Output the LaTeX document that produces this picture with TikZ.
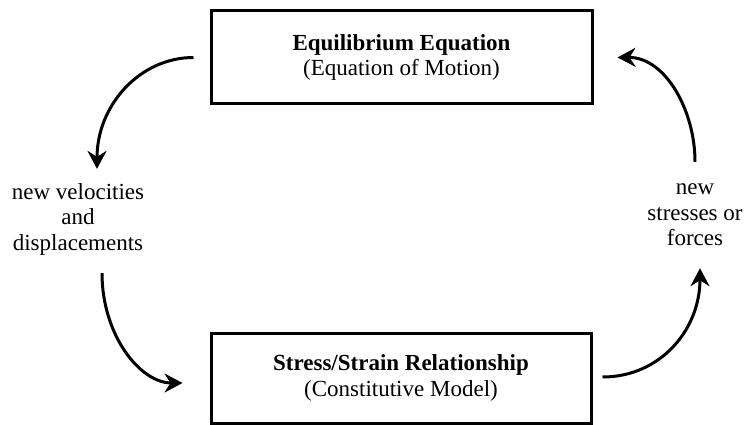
\documentclass[tikz,border=0pt]{standalone}
\usepackage{fontspec}
\setmainfont{Liberation Serif}
\usetikzlibrary{arrows.meta,calc}
\begin{document}
\begin{tikzpicture}[x=1pt,y=-1pt,
  box/.style={draw, line width=3pt, align=center, font=\fontsize{23}{25.5}\selectfont, inner sep=0pt},
  lbl/.style={align=center, font=\fontsize{23}{25.5}\selectfont, inner sep=0pt},
  arr/.style={line width=3pt, -{Stealth[length=18pt,width=19pt,inset=6pt]}}]
\useasboundingbox (0,0) rectangle (747,425);
\node[box, minimum width=381pt, minimum height=93pt] (top) at (401.5,57.5) {\textbf{Equilibrium Equation}\\(Equation of Motion)};
\node[box, minimum width=380pt, minimum height=90pt] (bot) at (401,378) {\textbf{Stress/Strain Relationship}\\(Constitutive Model)};
\node[lbl] (left) at (78,219) {new velocities\\and\\displacements};
\node[lbl] (right) at (695,215) {new\\stresses or\\forces};
\coordinate (a1s) at ($(top.west)+(-16,0)$);
\coordinate (a1e) at ($(left.north)+(19,-14)$);
\coordinate (a2s) at ($(left.south)+(24,18)$);
\coordinate (a2e) at ($(bot.west)+(-27,5)$);
\coordinate (a3s) at ($(bot.east)+(10,-1)$);
\coordinate (a3e) at ($(right.south)+(5,22)$);
\coordinate (a4s) at ($(right.north)+(0,-22)$);
\coordinate (a4e) at ($(top.east)+(24,0)$);
\draw[arr] (a1s) .. controls (140,57.5) and (97,105) .. (a1e);
\draw[arr] (a2s) .. controls (102,335) and (140,383) .. (a2e);
\draw[arr] (a3s) .. controls (660,377) and (700,330) .. (a3e);
\draw[arr] (a4s) .. controls (695,110) and (665,57) .. (a4e);
\end{tikzpicture}
\end{document}
